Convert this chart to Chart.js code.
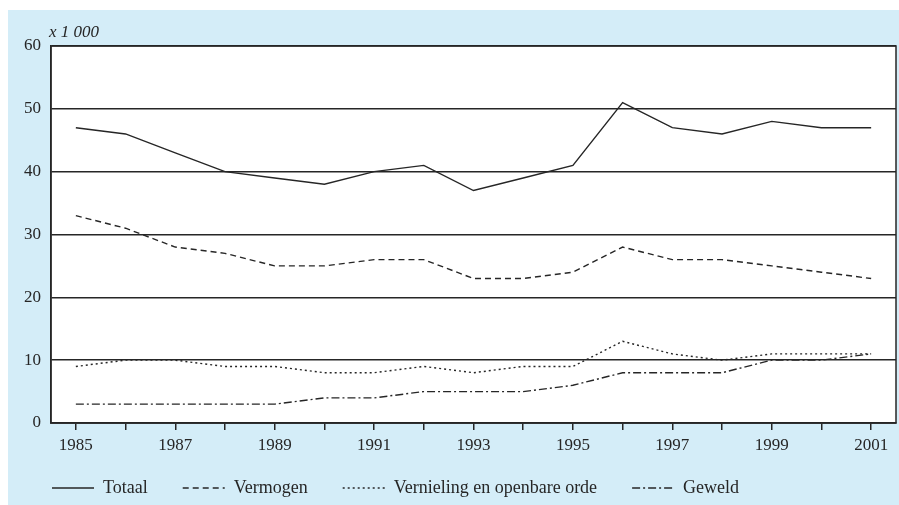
<!DOCTYPE html>
<html>
<head>
<meta charset="utf-8">
<script src="https://cdn.jsdelivr.net/npm/chart.js@4/dist/chart.umd.min.js"></script>
<style>
  html, body { margin: 0; padding: 0; background: #ffffff; }
  #wrap { width: 899px; height: 505px; position: relative; }
</style>
</head>
<body>
<div id="wrap"><canvas id="c" width="899" height="505"></canvas></div>
<script>
const years = ['1985','1986','1987','1988','1989','1990','1991','1992','1993','1994','1995','1996','1997','1998','1999','2000','2001'];
const totaal     = [47, 46, 43, 40, 39, 38, 40, 41, 37, 39, 41, 51, 47, 46, 48, 47, 47];
const vermogen   = [33, 31, 28, 27, 25, 25, 26, 26, 23, 23, 24, 28, 26, 26, 25, 24, 23];
const vernieling = [ 9, 10, 10,  9,  9,  8,  8,  9,  8,  9,  9, 13, 11, 10, 11, 11, 11];
const geweld     = [ 3,  3,  3,  3,  3,  4,  4,  5,  5,  5,  6,  8,  8,  8, 10, 10, 11];
const seriesNames = ['Totaal', 'Vermogen', 'Vernieling en openbare orde', 'Geweld'];
const yTicks = [0, 10, 20, 30, 40, 50, 60];
const unitLabel = 'x 1 000';

const INK = '#262626';
const SERIF = '"Liberation Serif", "DejaVu Serif", serif';
const LEGEND_H = 42;
const LEGEND_SHIFT = 19;

const bgPlugin = {
  id: 'bg',
  beforeLayout(chart) {
    const lg = chart.legend;
    if (lg && !lg._patched) {
      const fit = lg.fit;
      lg.fit = function () { fit.call(this); this.height = LEGEND_H; };
      const drw = lg._draw;
      lg._draw = function () {
        this.ctx.save();
        this.ctx.translate(0, -LEGEND_SHIFT);
        drw.call(this);
        this.ctx.restore();
      };
      lg._patched = true;
    }
  },
  beforeDraw(chart) {
    const ctx = chart.ctx;
    const a = chart.chartArea;
    ctx.save();
    ctx.fillStyle = '#ffffff';
    ctx.fillRect(0, 0, chart.width, chart.height);
    ctx.fillStyle = '#d4edf8';
    ctx.fillRect(8, 10, chart.width - 8, chart.height - 10);
    ctx.fillStyle = '#ffffff';
    ctx.fillRect(a.left, a.top, a.right - a.left, a.bottom - a.top);
    ctx.restore();
  },
  afterDraw(chart) {
    const ctx = chart.ctx;
    const a = chart.chartArea;
    ctx.save();
    ctx.strokeStyle = INK;
    ctx.lineWidth = 1.5;
    ctx.strokeRect(a.left, a.top, a.right - a.left, a.bottom - a.top);
    ctx.fillStyle = INK;
    ctx.font = 'italic 17px ' + SERIF;
    ctx.textBaseline = 'alphabetic';
    ctx.fillText(unitLabel, 49, 37);
    ctx.restore();
  }
};

const dashes = [[], [6, 4], [2, 3], [8, 3, 2, 3]];
const values = [totaal, vermogen, vernieling, geweld];

new Chart(document.getElementById('c'), {
  type: 'line',
  data: {
    labels: years,
    datasets: seriesNames.map((name, i) => ({
      label: name,
      data: values[i],
      borderColor: INK,
      backgroundColor: 'rgba(0,0,0,0)',
      borderWidth: 1.4,
      borderDash: dashes[i],
      pointRadius: 0,
      tension: 0,
      fill: false
    }))
  },
  options: {
    responsive: false,
    devicePixelRatio: 1,
    animation: false,
    layout: { padding: { left: 17, right: 3, top: 46, bottom: 0 } },
    plugins: {
      tooltip: { enabled: false },
      legend: {
        position: 'bottom',
        align: 'start',
        labels: {
          usePointStyle: true,
          pointStyle: 'line',
          pointStyleWidth: 42,
          padding: 35,
          color: INK,
          font: { family: SERIF, size: 18 },
          generateLabels(chart) {
            const items = Chart.defaults.plugins.legend.labels.generateLabels(chart);
            items.forEach(it => {
              const ds = chart.data.datasets[it.datasetIndex];
              it.lineDash = ds.borderDash;
              it.lineWidth = ds.borderWidth;
              it.strokeStyle = ds.borderColor;
              it.fillStyle = 'rgba(0,0,0,0)';
              it.pointStyle = 'line';
            });
            return items;
          }
        }
      }
    },
    scales: {
      x: {
        type: 'category',
        offset: true,
        afterFit(scale) { scale.height = 40; },
        grid: { offset: false, drawOnChartArea: false, drawTicks: true, tickLength: 7, color: INK, lineWidth: 1.5 },
        border: { display: true, color: INK, width: 1.5 },
        ticks: {
          autoSkip: false,
          maxRotation: 0,
          padding: 5,
          color: INK,
          font: { family: SERIF, size: 17 },
          callback(value, index) { return index % 2 === 0 ? years[index] : ''; }
        }
      },
      y: {
        min: 0,
        max: 60,
        afterFit(scale) { scale.width = 34; },
        afterBuildTicks(scale) { scale.ticks = yTicks.map(v => ({ value: v })); },
        grid: { drawTicks: false, color: INK, lineWidth: 1.5 },
        border: { display: true, color: INK, width: 1.5 },
        ticks: {
          padding: 10,
          color: INK,
          font: { family: SERIF, size: 17 }
        }
      }
    }
  },
  plugins: [bgPlugin]
});
</script>
</body>
</html>
